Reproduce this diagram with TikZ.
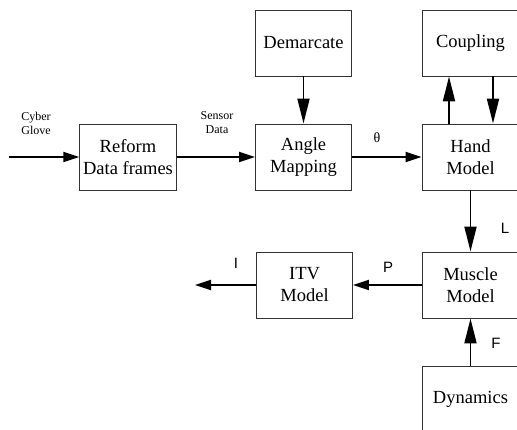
\documentclass[tikz,border=0pt]{standalone}
\usepackage{fontspec}
\setmainfont{Liberation Serif}
\newfontfamily\labelsans{Liberation Sans}
\usepackage{tikz}
\usetikzlibrary{arrows.meta}

\begin{document}
\begin{tikzpicture}[x=1pt, y=-1pt,
    block/.style={draw=black!80, line width=0.9pt, minimum width=96pt, minimum height=66pt, align=center, font=\fontsize{18.5}{22}\selectfont},
    harrow/.style={line width=1.8pt, -{Triangle[length=16pt, width=10pt]}},
    varrow/.style={line width=1.8pt, -{Triangle[length=25pt, width=12pt]}},
    small/.style={align=center, font=\fontsize{12}{14}\selectfont},
    sig/.style={font=\labelsans\fontsize{15}{17}\selectfont}]
        \useasboundingbox (0,0) rectangle (517,430);
        \clip (0,0) rectangle (517,430);

        % Blocks
        \node[block] (reform) at (128,157) {Reform\\Data frames};
        \node[block] (demarcate) at (303.5,43) {Demarcate};
        \node[block] (angle) at (303.5,157) {Angle\\Mapping};
        \node[block, minimum width=97pt] (coupling) at (470.5,43) {Coupling};
        \node[block, minimum width=97pt] (hand) at (470.5,157) {Hand\\Model};
        \node[block, minimum width=97pt] (muscle) at (470.5,285) {Muscle\\Model};
        \node[block] (itv) at (304.5,285) {ITV\\Model};
        \node[block, minimum width=97pt] (dynamics) at (470.5,399) {Dynamics};

        % Loose ends
        \coordinate (glove) at (9,157);
        \coordinate (out) at (195,285);

        % Arrows
        \draw[harrow] (glove) -- (reform);
        \draw[harrow] (reform) -- (angle);
        \draw[varrow] (demarcate) -- (angle);
        \draw[harrow] (angle) -- (hand);
        \draw[varrow] ([xshift=-21.5pt]hand.north) -- ([xshift=-21.5pt]coupling.south);
        \draw[varrow] ([xshift=22.5pt]coupling.south) -- ([xshift=22.5pt]hand.north);
        \draw[varrow] (hand) -- (muscle);
        \draw[harrow] (muscle) -- (itv);
        \draw[harrow] (itv) -- (out);
        \draw[varrow] (dynamics) -- (muscle);

        % Labels
        \node[small] (glovelabel) at (36,123) {Cyber\\Glove};
        \node[small] (sensorlabel) at (217,123) {Sensor\\Data};
        \node[font=\fontsize{14}{16}\selectfont] (theta) at (377,138) {θ};
        \node[sig] (llabel) at (505,228) {L};
        \node[sig] (plabel) at (388,267) {P};
        \node[sig] (ilabel) at (236,263) {I};
        \node[sig] (flabel) at (496,343) {F};
    \end{tikzpicture}
\end{document}
